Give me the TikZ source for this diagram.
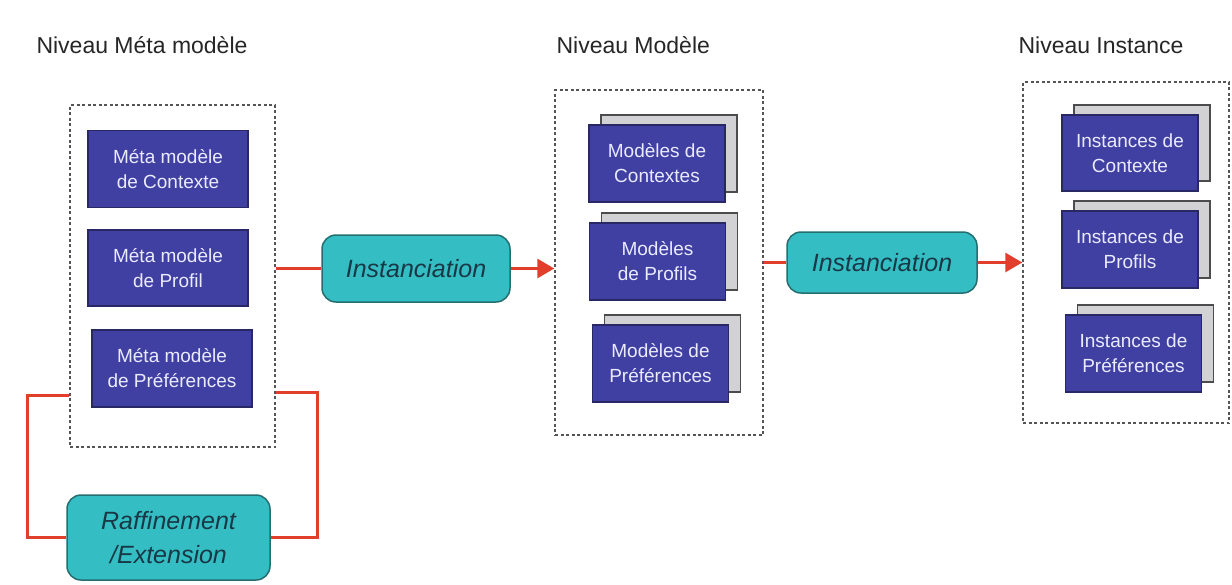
\documentclass[tikz,border=0pt]{standalone}
\usepackage{fontspec}
\setmainfont{Liberation Sans}
\usepackage{tikz}
\usetikzlibrary{arrows.meta,shadows}

\definecolor{boxblue}{RGB}{64,64,163}
\definecolor{boxline}{RGB}{40,40,100}
\definecolor{sheetgrey}{RGB}{210,210,212}
\definecolor{procteal}{RGB}{52,190,196}
\definecolor{procline}{RGB}{36,110,112}
\definecolor{proctext}{RGB}{24,56,70}
\definecolor{linkred}{RGB}{226,62,44}
\definecolor{dashgrey}{RGB}{85,85,85}

\begin{document}
\begin{tikzpicture}[x=1pt,y=-1pt,
		niveau/.style={anchor=west,font=\fontsize{23}{27}\selectfont,text=black!85},
		cadre/.style={draw=dashgrey,line width=1.4pt,dash pattern=on 3pt off 2.5pt},
		metabox/.style={draw=boxline,line width=1.2pt,fill=boxblue,text=white!92!blue,
			align=center,inner sep=0pt,minimum width=160pt,minimum height=77pt,
			font=\fontsize{19}{25}\selectfont},
		pile/.style={metabox,minimum width=136pt,
			copy shadow={shadow xshift=12pt,shadow yshift=10pt,fill=sheetgrey,draw=black!70,line width=1.2pt}},
		process/.style={draw=procline,line width=1.5pt,fill=procteal,rounded corners=14pt,
			text=proctext,align=center,inner sep=0pt,font=\fontsize{25}{34}\selectfont\itshape},
		link/.style={draw=linkred,line width=3pt},
		fleche/.style={link,-{Triangle[length=17pt,width=19pt]}}]
	\useasboundingbox (0,0) rectangle (1232,584);

	% titres des niveaux
	\node[niveau] (tmeta) at (33,45) {Niveau Méta modèle};
	\node[niveau] (tmod) at (553,45) {Niveau Modèle};
	\node[niveau] (tinst) at (1015,45) {Niveau Instance};

	% niveau meta modele
	\node[cadre,minimum width=205pt,minimum height=342pt] (meta) at (172.5,276) {};
	\node[metabox] (mctx) at (168,169) {Méta modèle\\de Contexte};
	\node[metabox,minimum height=76pt] (mprof) at (168,268) {Méta modèle\\de Profil};
	\node[metabox] (mpref) at (172,368.5) {Méta modèle\\de Préférences};

	% niveau modele
	\node[cadre,minimum width=208pt,minimum height=345pt] (mod) at (659,262.5) {};
	\node[pile] (ctx) at (657,163.5) {Modèles de\\Contextes};
	\node[pile] (prof) at (657.5,261.5) {Modèles\\de Profils};
	\node[pile] (pref) at (660.5,363.5) {Modèles de\\Préférences};

	% niveau instance
	\node[cadre,minimum width=206pt,minimum height=341pt] (inst) at (1126,252.5) {};
	\node[pile,minimum height=76pt] (ictx) at (1130,153) {Instances de\\Contexte};
	\node[pile] (iprof) at (1130,249.5) {Instances de\\Profils};
	\node[pile] (ipref) at (1133.5,353.5) {Instances de\\Préférences};

	% processus
	\node[process,minimum width=188pt,minimum height=67pt] (inst1) at (416,268.5) {Instanciation};
	\node[process,minimum width=190pt,minimum height=61pt] (inst2) at (882,262.5) {Instanciation};
	\node[process,minimum width=203pt,minimum height=85pt] (raff) at (168.5,537.5) {Raffinement\\/Extension};

	% liens
	\draw[link] (inst1.west -| meta.east) -- (inst1.west);
	\draw[fleche] (inst1.east) -- (inst1.east -| mod.west);
	\draw[link] (inst2.west -| mod.east) -- (inst2.west);
	\draw[fleche] (inst2.east) -- (inst2.east -| inst.west);
	\draw[link] (meta.west |- 0,395) -- ++(-42,0) |- (raff.west);
	\draw[link] (meta.east |- 0,392) -- ++(42,0) |- (raff.east);
\end{tikzpicture}
\end{document}
